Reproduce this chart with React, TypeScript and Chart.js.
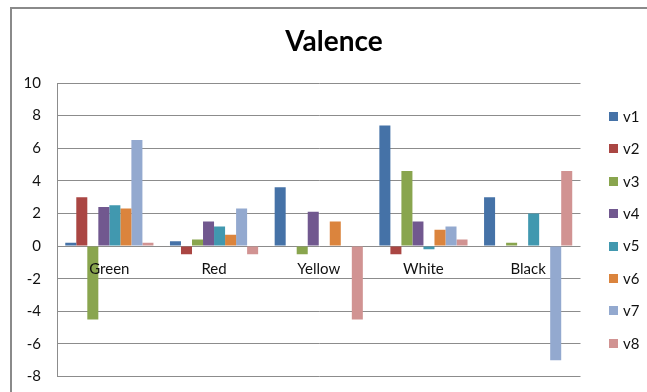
import React, { useEffect, useRef } from "react";
import { Chart, registerables } from "chart.js";

Chart.register(...registerables);

const TITLE = "Valence";
const categories = ["Green", "Red", "Yellow", "White", "Black"];
const seriesNames = ["v1", "v2", "v3", "v4", "v5", "v6", "v7", "v8"];
const v1 = [0.2, 0.3, 3.6, 7.4, 3.0];
const v2 = [3.0, -0.5, 0, -0.5, 0];
const v3 = [-4.5, 0.4, -0.5, 4.6, 0.2];
const v4 = [2.4, 1.5, 2.1, 1.5, 0];
const v5 = [2.5, 1.2, 0, -0.2, 2.0];
const v6 = [2.3, 0.7, 1.5, 1.0, 0];
const v7 = [6.5, 2.3, 0, 1.2, -7.0];
const v8 = [0.2, -0.5, -4.5, 0.4, 4.6];
const seriesValues = [v1, v2, v3, v4, v5, v6, v7, v8];
const colors = ["#4572A7", "#AA4643", "#89A54E", "#71588F", "#4198AF", "#DB843D", "#93A9CF", "#D19392"];
const yMin = -8;
const yMax = 10;
const yStep = 2;

const FONT = "Lato, 'Open Sans', sans-serif";

const overlay = {
  id: "overlay",
  beforeDraw(chart: any) {
    const ctx = chart.ctx;
    ctx.save();
    ctx.fillStyle = "#ffffff";
    ctx.fillRect(0, 0, chart.width, chart.height);
    ctx.strokeStyle = "#8a8a8a";
    ctx.lineWidth = 2;
    ctx.strokeRect(11, 8, 700, 500);
    ctx.restore();
  },
  afterDraw(chart: any) {
    const ctx = chart.ctx;
    ctx.save();
    ctx.fillStyle = "#000";
    ctx.textAlign = "center";
    ctx.textBaseline = "middle";
    ctx.font = `bold 28px ${FONT}`;
    ctx.fillText(TITLE, 334, 42);
    // category labels just below the zero line
    ctx.font = `15px ${FONT}`;
    ctx.fillStyle = "#111";
    const xs = chart.scales.x;
    const y0 = chart.scales.y.getPixelForValue(0);
    chart.data.labels.forEach((lab: string, i: number) => {
      ctx.fillText(lab, xs.getPixelForTick(i), y0 + 23);
    });
    // legend
    ctx.textAlign = "left";
    chart.data.datasets.forEach((ds: any, i: number) => {
      const y = 116.5 + i * 32.4;
      ctx.fillStyle = ds.backgroundColor;
      ctx.fillRect(609, Math.round(y - 4.5), 9, 9);
      ctx.fillStyle = "#111";
      ctx.fillText(ds.label, 623, y + 0.5);
    });
    ctx.restore();
  },
};

export default function App() {
  const ref = useRef<HTMLCanvasElement>(null);
  useEffect(() => {
    document.body.style.margin = "0";
    const chart = new Chart(ref.current!, {
      type: "bar",
      data: {
        labels: categories,
        datasets: seriesNames.map((name, i) => ({
          label: name,
          data: seriesValues[i],
          backgroundColor: colors[i],
          borderWidth: 0,
          barPercentage: 1,
          categoryPercentage: 8 / 9.5,
        })),
      },
      options: {
        animation: false,
        responsive: false,
        layout: { padding: { top: 83, bottom: 15.5, left: 0, right: 66.5 } },
        plugins: { legend: { display: false }, title: { display: false }, tooltip: { enabled: false } },
        scales: {
          x: {
            display: false,
          },
          y: {
            min: yMin,
            max: yMax,
            ticks: { stepSize: yStep, color: "#111", font: { family: FONT, size: 15 }, padding: 0 },
            grid: {
              color: "#8c8c8c",
              drawTicks: true,
              tickLength: 16,
              tickColor: "rgba(0,0,0,0)",
              lineWidth: 1,
            },
            border: { color: "#8c8c8c" },
            afterFit: (s: any) => {
              s.width = 57;
            },
          } as any,
        },
      },
      plugins: [overlay],
    });
    return () => chart.destroy();
  }, []);
  return (
    <div style={{ width: 647, height: 392 }}>
      <canvas ref={ref} width={647} height={392} style={{ width: 647, height: 392, display: "block" }} />
    </div>
  );
}
